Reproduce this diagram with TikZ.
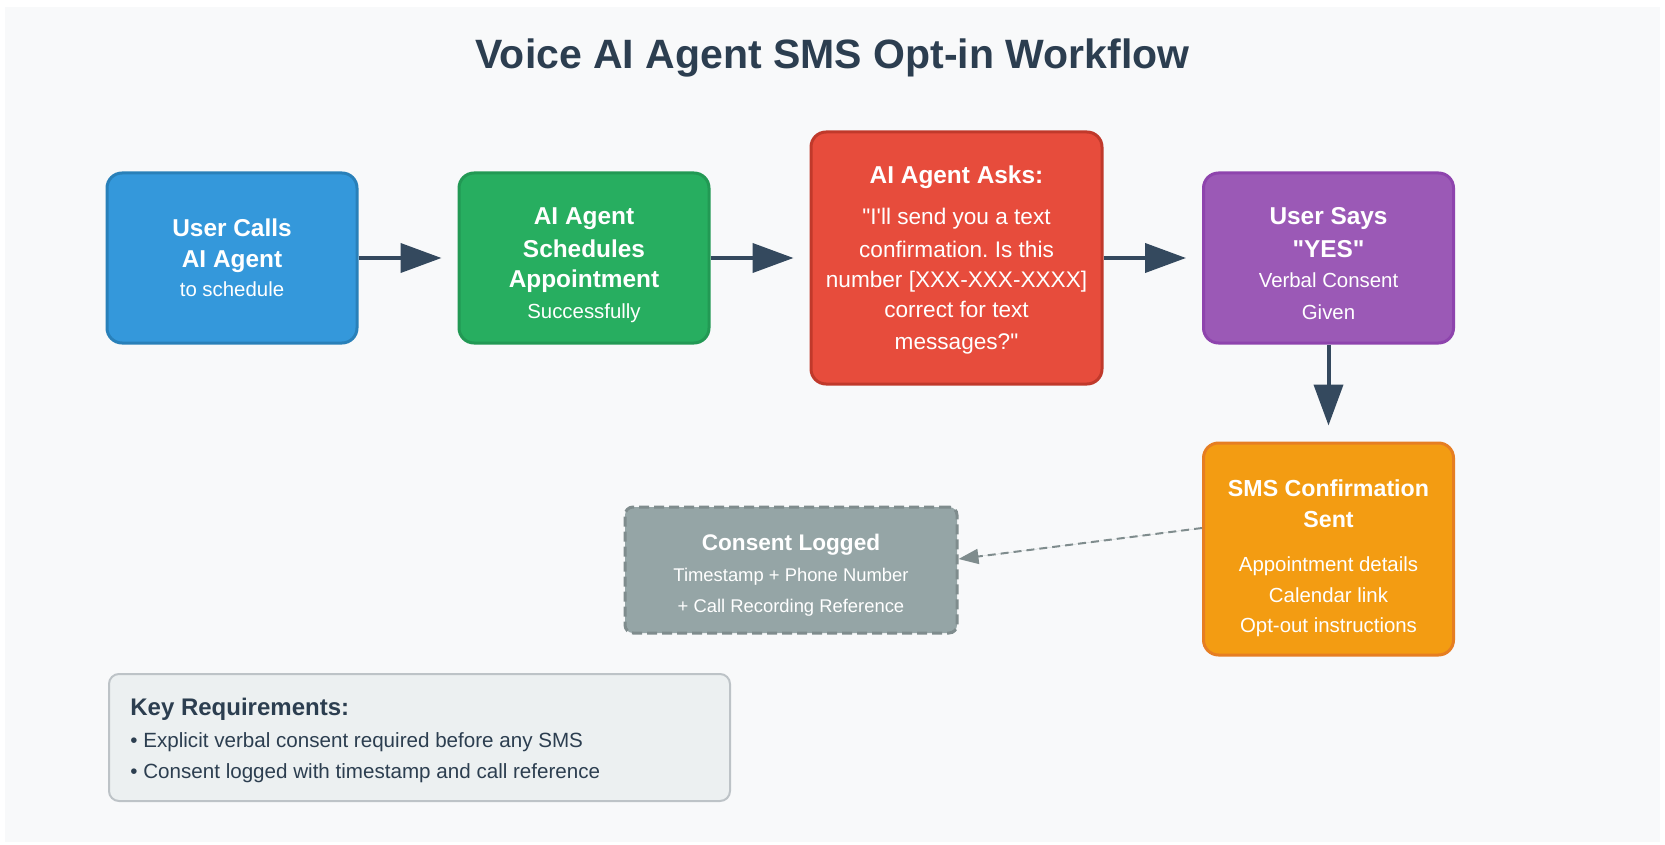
\documentclass[tikz,border=0pt]{standalone}
\usepackage{fontspec}
\setmainfont{Liberation Sans}[Ligatures=TeXOff]
\usepackage{tikz}
\usetikzlibrary{arrows.meta}
\frenchspacing

\definecolor{panel}{HTML}{F8F9FA}
\definecolor{ink}{HTML}{2C3E50}
\definecolor{arrowc}{HTML}{34495E}
\definecolor{callf}{HTML}{3498DB}
\definecolor{calld}{HTML}{2980B9}
\definecolor{bookf}{HTML}{27AE60}
\definecolor{bookd}{HTML}{229954}
\definecolor{askf}{HTML}{E74C3C}
\definecolor{askd}{HTML}{C0392B}
\definecolor{yesf}{HTML}{9B59B6}
\definecolor{yesd}{HTML}{8E44AD}
\definecolor{smsf}{HTML}{F39C12}
\definecolor{smsd}{HTML}{E67E22}
\definecolor{logf}{HTML}{95A5A6}
\definecolor{logd}{HTML}{7F8C8D}
\definecolor{keyf}{HTML}{ECF0F1}
\definecolor{keyd}{HTML}{BDC3C7}

\begin{document}
\begin{tikzpicture}[x=0.5pt,y=-0.5pt,
    box/.style={draw, rounded corners=7.5pt, line width=1.5pt, inner sep=0pt},
    head/.style={anchor=base, inner sep=0pt, text=white, font=\bfseries\fontsize{12.2}{14}\selectfont},
    sub/.style={anchor=base, inner sep=0pt, text=white, font=\fontsize{10.2}{12}\selectfont},
    flow/.style={-{Triangle[length=20.5pt,width=14.5pt]}, line width=2pt, draw=arrowc, shorten >=8pt}]
        \useasboundingbox (0,0) rectangle (1665,845);
        \fill[white] (0,0) rectangle (1665,845);
        \fill[panel] (5,7) rectangle (1660,842);

        \node[anchor=base, inner sep=0pt, text=ink, font=\bfseries\fontsize{20.5}{24}\selectfont] (title) at (832.5,69) {Voice AI Agent SMS Opt-in Workflow};

        % top row
        \node[box, fill=callf, draw=calld, minimum width=125pt, minimum height=85pt] (call) at (232,258) {};
        \node[head] (callA) at (232,237) {User Calls};
        \node[head] (callB) at (232,268) {AI Agent};
        \node[sub] (callC) at (232,297) {to schedule};

        \node[box, fill=bookf, draw=bookd, minimum width=125pt, minimum height=85pt] (book) at (584,258) {};
        \node[head] (bookA) at (584,225) {AI Agent};
        \node[head] (bookB) at (584,257) {Schedules};
        \node[head] (bookC) at (584,288) {Appointment};
        \node[sub] (bookD) at (584,319) {Successfully};

        \node[box, fill=askf, draw=askd, minimum width=145.5pt, minimum height=126pt] (ask) at (956.5,258) {};
        \node[head] (askA) at (956.5,184) {AI Agent Asks:};
        \node[sub, font=\fontsize{11.3}{13}\selectfont] (askB) at (956.5,225) {"I'll send you a text};
        \node[sub, font=\fontsize{11.3}{13}\selectfont] (askC) at (956.5,257) {confirmation. Is this};
        \node[sub, font=\fontsize{11.3}{13}\selectfont] (askD) at (956.5,287) {number [XXX-XXX-XXXX]};
        \node[sub, font=\fontsize{11.3}{13}\selectfont] (askE) at (956.5,318) {correct for text};
        \node[sub, font=\fontsize{11.3}{13}\selectfont] (askF) at (956.5,350) {messages?"};

        \node[box, fill=yesf, draw=yesd, minimum width=125pt, minimum height=85pt] (yes) at (1328.5,258) {};
        \node[head] (yesA) at (1328.5,225) {User Says};
        \node[head] (yesB) at (1328.5,257) {"YES"};
        \node[sub] (yesC) at (1328.5,288) {Verbal Consent};
        \node[sub] (yesD) at (1328.5,320) {Given};

        \draw[flow] (call) -- (book);
        \draw[flow] (book) -- (ask);
        \draw[flow] (ask) -- (yes);

        % second row
        \node[box, fill=smsf, draw=smsd, minimum width=125pt, minimum height=106pt] (sms) at (1328.5,549) {};
        \node[head, font=\bfseries\fontsize{11.6}{14}\selectfont] (smsA) at (1328.5,496) {SMS Confirmation};
        \node[head, font=\bfseries\fontsize{11.6}{14}\selectfont] (smsB) at (1328.5,527) {Sent};
        \node[sub] (smsC) at (1328.5,571) {Appointment details};
        \node[sub] (smsD) at (1328.5,602) {Calendar link};
        \node[sub] (smsE) at (1328.5,632) {Opt-out instructions};

        \draw[flow] (yes) -- (sms);

        \node[box, fill=logf, draw=logd, dash pattern=on 5pt off 2.5pt, rounded corners=4pt, minimum width=166pt, minimum height=63pt] (logged) at (791,570) {};
        \node[head, font=\bfseries\fontsize{11.3}{14}\selectfont] (loggedA) at (791,550) {Consent Logged};
        \node[sub, font=\fontsize{9.2}{11}\selectfont] (loggedB) at (791,581) {Timestamp + Phone Number};
        \node[sub, font=\fontsize{9.2}{11}\selectfont] (loggedC) at (791,612) {+ Call Recording Reference};

        \draw[-{Triangle[length=10pt,width=7.5pt]}, line width=1pt, draw=logd, fill=logd, dash pattern=on 4pt off 2.5pt] ([yshift=10.5pt]sms.west) -- ([yshift=5.5pt]logged.east);

        % requirements
        \node[draw=keyd, fill=keyf, line width=1pt, rounded corners=5pt, minimum width=310.5pt, minimum height=63.5pt] (key) at (419.5,737.5) {};
        \node[anchor=base west, inner sep=0pt, text=ink, font=\bfseries\fontsize{12}{14}\selectfont] (keyA) at (130,715) {Key Requirements:};
        \node[anchor=base west, inner sep=0pt, text=ink, font=\fontsize{10.3}{12}\selectfont] (keyB) at (130,747) {• Explicit verbal consent required before any SMS};
        \node[anchor=base west, inner sep=0pt, text=ink, font=\fontsize{10.3}{12}\selectfont] (keyC) at (130,778) {• Consent logged with timestamp and call reference};
      \end{tikzpicture}
\end{document}
